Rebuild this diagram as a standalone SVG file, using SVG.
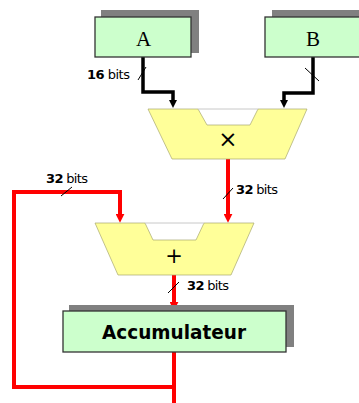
<svg xmlns="http://www.w3.org/2000/svg" width="359" height="403" viewBox="0 0 359 403">
<style>
.shadow{fill:#808080;stroke:none}
.box{fill:#CCFFCC;stroke:#333;stroke-width:1.3}
.alu{fill:#FFFF99;stroke:#A8A870;stroke-width:0.7}
.notch{stroke:#C8C8C8;stroke-width:1}
.reg{font-family:"Liberation Serif",serif;font-size:21px;fill:#000;text-anchor:middle}
.acc{font-family:"DejaVu Sans",sans-serif;font-size:19px;font-weight:bold;fill:#000;text-anchor:middle}
.op{font-family:"DejaVu Sans",sans-serif;fill:#000;text-anchor:middle}
.lbl{font-family:"DejaVu Sans",sans-serif;font-size:13px;fill:#000}
.lbl .n{font-weight:bold}
.bw{fill:none;stroke:#000;stroke-width:3.5}
.rw{fill:none;stroke:#FF0000;stroke-width:4}
.slash{stroke:#000;stroke-width:1}
</style>
<defs>
<marker id="ab" viewBox="0 0 8 8" refX="2" refY="4" markerWidth="9" markerHeight="8" markerUnits="userSpaceOnUse" orient="auto"><path d="M0,0 L8,4 L0,8 z" fill="#000"/></marker>
<marker id="ar" viewBox="0 0 8 8" refX="2" refY="4" markerWidth="9" markerHeight="9" markerUnits="userSpaceOnUse" orient="auto"><path d="M0,0 L8,4 L0,8 z" fill="#FF0000"/></marker>
</defs>
<g id="connectors">
<path class="bw" d="M143,57 V92 H173 V102" marker-end="url(#ab)"/>
<path class="bw" d="M313,57 V93 H284 V102" marker-end="url(#ab)"/>
<path class="rw" d="M228,159 V216" marker-end="url(#ar)"/>
<path class="rw" d="M174,387 H14 V192 H120 V216" marker-end="url(#ar)"/>
<path class="rw" d="M174,275 V304" marker-end="url(#ar)"/>
<path class="rw" d="M174,352 V403"/>
<line class="slash" x1="138" y1="80" x2="146" y2="67"/>
<line class="slash" x1="305" y1="68" x2="319" y2="81"/>
<line class="slash" x1="223" y1="199" x2="233" y2="188"/>
<line class="slash" x1="61" y1="196" x2="72" y2="187"/>
<line class="slash" x1="168" y1="293" x2="179" y2="282"/>
<text class="lbl" x="87" y="79" textLength="43"><tspan class="n">16</tspan> bits</text>
<text class="lbl" x="46" y="183" textLength="42"><tspan class="n">32</tspan> bits</text>
<text class="lbl" x="236" y="194" textLength="42"><tspan class="n">32</tspan> bits</text>
<text class="lbl" x="187" y="290" textLength="42"><tspan class="n">32</tspan> bits</text>
</g>
<g id="regA">
<rect class="shadow" x="101" y="10" width="98" height="43"/>
<rect class="box" x="95" y="17" width="96" height="40"/>
<text class="reg" x="143.5" y="46">A</text>
</g>
<g id="regB">
<rect class="shadow" x="272" y="10" width="98" height="43"/>
<rect class="box" x="265" y="17" width="97" height="40"/>
<text class="reg" x="313" y="46">B</text>
</g>
<g id="mult">
<path class="alu" d="M198,109 L207,125 H250 L258,109 H307 L285,159 H172 L148,109 H198"/>
<line class="notch" x1="198" y1="109" x2="258" y2="109"/>
<text class="op" x="228" y="147" font-size="23">×</text>
</g>
<g id="adder">
<path class="alu" d="M145,223 L153,240 H196 L204,223 H254 L231,275 H118 L95,223 H145"/>
<line class="notch" x1="145" y1="223" x2="204" y2="223"/>
<text class="op" x="174" y="263" font-size="21">+</text>
</g>
<g id="acc">
<rect class="shadow" x="69" y="305" width="225" height="42"/>
<rect class="box" x="63" y="311" width="223" height="41"/>
<text class="acc" x="174" y="339" textLength="144" lengthAdjust="spacingAndGlyphs">Accumulateur</text>
</g>
</svg>
